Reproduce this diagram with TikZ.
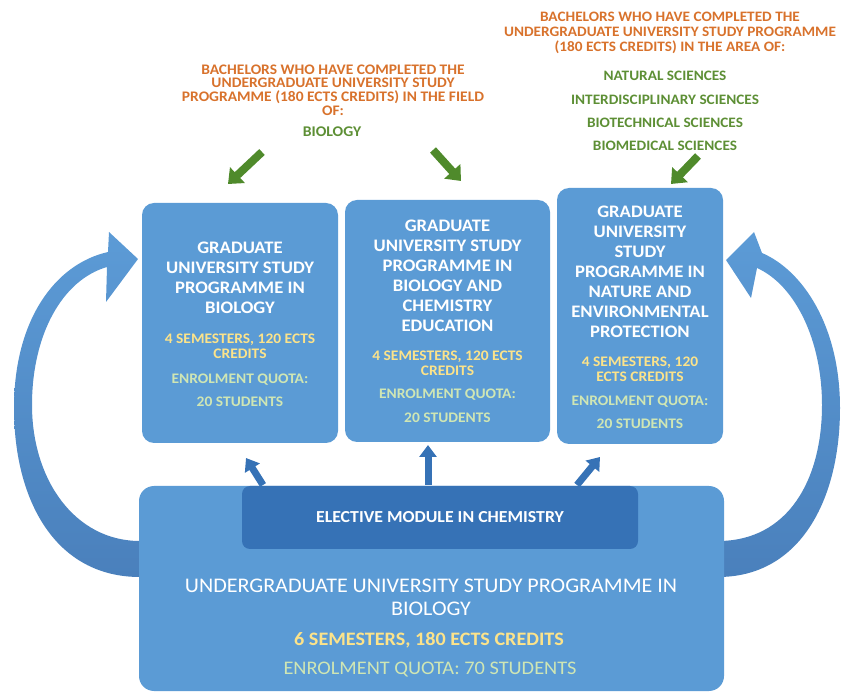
\documentclass[tikz,border=0pt]{standalone}
\usepackage{fontspec}
\setmainfont[FakeStretch=1.06]{Carlito}
\usetikzlibrary{arrows.meta}

\definecolor{boxblue}{HTML}{5B9BD5}
\definecolor{moduleblue}{HTML}{3672B6}
\definecolor{arcTop}{HTML}{5C9BD6}
\definecolor{arcBot}{HTML}{4A80BC}
\definecolor{orangetxt}{HTML}{D8722C}
\definecolor{greentxt}{HTML}{5D8F35}
\definecolor{greenarrow}{HTML}{4F8A2B}
\definecolor{yellowtxt}{HTML}{FCE38A}
\definecolor{quotatxt}{HTML}{CFE6B4}

\begin{document}
\begin{tikzpicture}[x=1pt,y=-1pt,
  progbox/.style={fill=boxblue, rounded corners=12pt, inner sep=0pt},
  modbox/.style={fill=moduleblue, rounded corners=8pt, inner sep=0pt},
  titletxt/.style={text=white, align=center, inner sep=0pt,
    font=\bfseries\fontsize{17.6}{20}\selectfont},
  credtxt/.style={text=yellowtxt, align=center, inner sep=0pt,
    font=\bfseries\fontsize{14.6}{15}\selectfont},
  quotatext/.style={text=quotatxt, align=center, inner sep=0pt,
    font=\bfseries\fontsize{14.6}{15}\selectfont},
  headtxt/.style={text=orangetxt, align=center, inner sep=0pt},
  areatxt/.style={text=greentxt, align=center, inner sep=0pt,
    font=\bfseries\fontsize{14.4}{15}\selectfont},
  greenarr/.style={draw=greenarrow, line width=8pt,
    -{Triangle[width=21pt,length=13pt]}},
  bluearr/.style={draw=moduleblue, line width=7pt,
    -{Triangle[width=17pt,length=12pt]}},
  arcshade/.style={top color=arcTop, bottom color=arcBot, draw=none}
]
\useasboundingbox (0,0) rectangle (844,692);

% curved return arrows behind the boxes
\shade[arcshade]
  (150,577) -- (140,577) .. controls (55,577) and (14,500) .. (14,408)
  .. controls (14,320) and (55,264) .. (108,252)
  -- (109,232) -- (138,259) -- (106,302) -- (107,267)
  .. controls (62,280) and (32,335) .. (32,405)
  .. controls (32,480) and (75,541) .. (140,541) -- (150,541) -- cycle;
\shade[arcshade]
  (710,577) -- (718,577) .. controls (800,577) and (840,500) .. (840,408)
  .. controls (840,325) and (802,270) .. (762,253)
  -- (754,232) -- (726,260) -- (751,298) -- (757,268)
  .. controls (795,285) and (822,340) .. (822,405)
  .. controls (822,480) and (788,541) .. (718,541) -- (710,541) -- cycle;

% upper graduate programmes
\node[progbox, minimum width=196pt, minimum height=240pt] (gbio) at (240,323) {};
\node[progbox, minimum width=205pt, minimum height=242pt] (gedu) at (447.5,321) {};
\node[progbox, minimum width=166pt, minimum height=256pt] (genv) at (640,316) {};

\node[titletxt] (gbioT) at (240,278) {GRADUATE\\UNIVERSITY STUDY\\PROGRAMME IN\\BIOLOGY};
\node[credtxt] (gbioC) at (240,346) {4 SEMESTERS, 120 ECTS\\CREDITS};
\node[quotatext] (gbioQ) at (240,380) {ENROLMENT QUOTA:};
\node[quotatext] (gbioS) at (240,402) {20 STUDENTS};

\node[titletxt] (geduT) at (447.5,276) {GRADUATE\\UNIVERSITY STUDY\\PROGRAMME IN\\BIOLOGY AND\\CHEMISTRY\\EDUCATION};
\node[credtxt] (geduC) at (447.5,363.5) {4 SEMESTERS, 120 ECTS\\CREDITS};
\node[quotatext] (geduQ) at (447.5,395) {ENROLMENT QUOTA:};
\node[quotatext] (geduS) at (447.5,418) {20 STUDENTS};

\node[titletxt] (genvT) at (640,272) {GRADUATE\\UNIVERSITY\\STUDY\\PROGRAMME IN\\NATURE AND\\ENVIRONMENTAL\\PROTECTION};
\node[credtxt] (genvC) at (640,369) {4 SEMESTERS, 120\\ECTS CREDITS};
\node[quotatext] (genvQ) at (640,402) {ENROLMENT QUOTA:};
\node[quotatext] (genvS) at (640,424) {20 STUDENTS};

% small arrows from the chemistry module up to the graduate programmes
\coordinate (m1) at (263,485); \coordinate (t1) at (246,458);
\coordinate (m2) at (428,485); \coordinate (t2) at (428,445);
\coordinate (m3) at (577,485); \coordinate (t3) at (600,457);
\draw[bluearr] (m1) -- (t1);
\draw[bluearr] (m2) -- (t2);
\draw[bluearr] (m3) -- (t3);

% undergraduate programme with elective module
\node[progbox, rounded corners=15pt, minimum width=585pt, minimum height=205pt] (ug) at (431.5,588.5) {};
\node[modbox, minimum width=396pt, minimum height=63pt] (mod) at (440,517.5) {};
\node[text=white, inner sep=0pt, font=\bfseries\fontsize{16.8}{18}\selectfont] (modT) at (mod.center) {ELECTIVE MODULE IN CHEMISTRY};

\node[text=white, align=center, inner sep=0pt, font=\fontsize{20.8}{23}\selectfont] (ugT) at (431,597) {UNDERGRADUATE UNIVERSITY STUDY PROGRAMME IN\\BIOLOGY};
\node[text=yellowtxt, inner sep=0pt, font=\bfseries\fontsize{19}{20}\selectfont] (ugC) at (429,640) {6 SEMESTERS, 180 ECTS CREDITS};
\node[text=quotatxt, inner sep=0pt, font=\fontsize{19.2}{20}\selectfont] (ugQ) at (430,670) {ENROLMENT QUOTA: 70 STUDENTS};

% admission requirements
\node[headtxt, font=\bfseries\fontsize{14.6}{13.6}\selectfont] (reqL) at (333,90)
  {BACHELORS WHO HAVE COMPLETED THE\\UNDERGRADUATE UNIVERSITY STUDY\\PROGRAMME (180 ECTS CREDITS) IN THE FIELD\\OF:};
\node[areatxt, font=\bfseries\fontsize{14.8}{15}\selectfont] (reqLbio) at (332,132) {BIOLOGY};

\node[headtxt, font=\bfseries\fontsize{14.4}{15}\selectfont] (reqR) at (670,33)
  {BACHELORS WHO HAVE COMPLETED THE\\UNDERGRADUATE UNIVERSITY STUDY PROGRAMME\\(180 ECTS CREDITS) IN THE AREA OF:};
\node[areatxt] (areaA) at (665,76) {NATURAL SCIENCES};
\node[areatxt] (areaB) at (665,99.5) {INTERDISCIPLINARY SCIENCES};
\node[areatxt] (areaC) at (665,122.5) {BIOTECHNICAL SCIENCES};
\node[areatxt] (areaD) at (665,146) {BIOMEDICAL SCIENCES};

\coordinate (g1s) at (262,152); \coordinate (g1e) at (228,184);
\coordinate (g2s) at (433,150); \coordinate (g2e) at (461,181);
\coordinate (g3s) at (698,156); \coordinate (g3e) at (671,184);
\draw[greenarr] (g1s) -- (g1e);
\draw[greenarr] (g2s) -- (g2e);
\draw[greenarr] (g3s) -- (g3e);
\end{tikzpicture}
\end{document}
